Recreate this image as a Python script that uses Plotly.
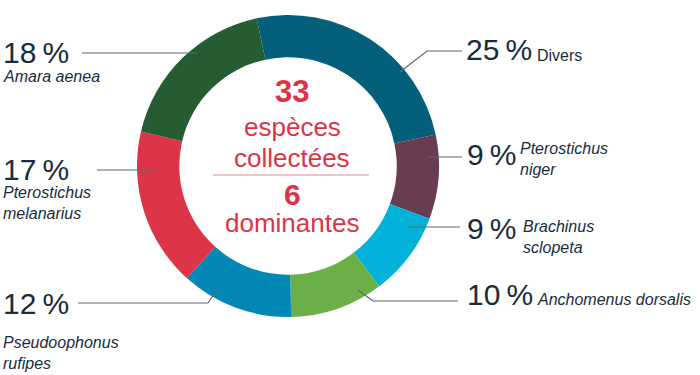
import plotly.graph_objects as go

# ---- data ----
species = ["Divers", "Pterostichus niger", "Brachinus sclopeta", "Anchomenus dorsalis",
           "Pseudoophonus rufipes", "Pterostichus melanarius", "Amara aenea"]
shares = [25, 9, 9, 10, 12, 17, 18]
name_lines = ["Divers", "<i>Pterostichus<br>niger</i>", "<i>Brachinus<br>sclopeta</i>",
              "<i>Anchomenus dorsalis</i>", "<i>Pseudoophonus<br>rufipes</i>",
              "<i>Pterostichus<br>melanarius</i>", "<i>Amara aenea</i>"]
center_lines = ["33", "espèces", "collectées", "6", "dominantes"]

colors = ["#035f7a", "#6a3c51", "#00b1d9", "#6ab046", "#0388b6", "#dd3447", "#255c31"]

W, H = 700, 375
CX, CY, R = 288, 166, 151

def px(x):
    return x / W

def py(y):
    return 1 - y / H

fig = go.Figure(go.Pie(
    labels=species, values=shares, sort=False, direction="clockwise", rotation=-12,
    hole=0.72, textinfo="none", hoverinfo="label+percent",
    marker=dict(colors=colors, line=dict(width=0)),
    domain=dict(x=[px(CX - R), px(CX + R)], y=[py(CY + R), py(CY - R)]),
    showlegend=False,
))

DARK = "#182c3d"
RED = "#dc3446"
LINE = "#5a6a75"
FONT = "Liberation Sans, Arial, sans-serif"

ann = []
def pct_text(v):
    return f"{v}\u2009%"

# percent labels: (x, y_center)
pct_pos = [(464, 49), (465, 154), (465, 228), (465, 294),
           (1, 303), (1, 169), (1, 53)]
for v, (x, y) in zip(shares, pct_pos):
    ann.append(dict(x=px(x), y=py(y), xref="paper", yref="paper", text=pct_text(v),
                    showarrow=False, xanchor="left", yanchor="middle",
                    font=dict(family=FONT, size=30, color=DARK)))

# species names
name_pos = [(535, 56), (518, 159), (521, 237), (535, 299),
            (1, 353), (1, 203), (1, 76)]
for t, (x, y) in zip(name_lines, name_pos):
    ann.append(dict(x=px(x), y=py(y), xref="paper", yref="paper", text=t,
                    showarrow=False, xanchor="left", yanchor="middle", align="left",
                    font=dict(family=FONT, size=16, color=DARK)))

# centre text
center_y = [91, 127, 158, 194, 223]
center_size = [31, 26, 26, 30, 26]
for t, y, s in zip(center_lines, center_y, center_size):
    txt = f"<b>{t}</b>" if t.isdigit() else t
    ann.append(dict(x=px(292), y=py(y), xref="paper", yref="paper", text=txt,
                    showarrow=False, xanchor="center", yanchor="middle", borderpad=0,
                    font=dict(family=FONT, size=s, color=RED)))

shapes = []
def poly(points, color=LINE, width=1.2):
    path = "M " + " L ".join(f"{px(x)},{py(y)}" for x, y in points)
    shapes.append(dict(type="path", path=path, xref="paper", yref="paper",
                       line=dict(color=color, width=width)))

poly([(400, 72), (427, 51), (462, 51)])
poly([(427, 157), (462, 157)])
poly([(408, 227), (460, 227)])
poly([(358, 290), (373, 301), (458, 301)])
poly([(217, 290), (208, 303), (78, 303)])
poly([(155, 170), (97, 170)])
poly([(196, 53), (82, 53)])
poly([(213, 175), (369, 175)], color="#e58a93", width=1)

fig.update_layout(width=W, height=H, margin=dict(l=0, r=0, t=0, b=0),
                  paper_bgcolor="white", plot_bgcolor="white",
                  annotations=ann, shapes=shapes)

fig.write_html("out.html", config={"displayModeBar": False},
               post_script="document.body.style.margin='0';")
